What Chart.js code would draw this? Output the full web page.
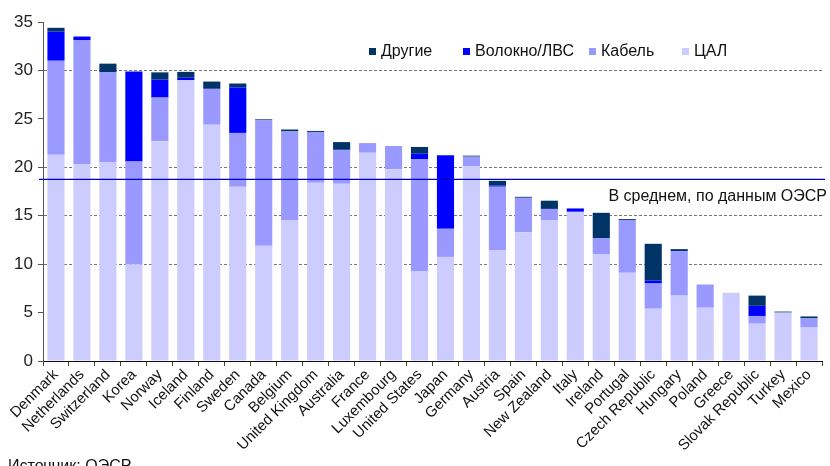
<!DOCTYPE html>
<html>
<head>
<meta charset="utf-8">
<script src="https://cdn.jsdelivr.net/npm/chart.js@4.4.1/dist/chart.umd.min.js"></script>
<style>
  html, body { margin: 0; padding: 0; background: #fff; }
  #wrap { width: 830px; height: 466px; }
</style>
</head>
<body>
<div id="wrap"><canvas id="chart" width="830" height="466"></canvas></div>
<script>
const countries = ['Denmark', 'Netherlands', 'Switzerland', 'Korea', 'Norway', 'Iceland', 'Finland', 'Sweden',
    'Canada', 'Belgium', 'United Kingdom', 'Australia', 'France', 'Luxembourg', 'United States', 'Japan',
    'Germany', 'Austria', 'Spain', 'New Zealand', 'Italy', 'Ireland', 'Portugal', 'Czech Republic',
    'Hungary', 'Poland', 'Greece', 'Slovak Republic', 'Turkey', 'Mexico'];

const dsl = [21.3, 20.3, 20.5, 10.0, 22.7, 29.0, 24.4, 18.0, 11.9, 14.5, 18.4, 18.3, 21.5, 19.8, 9.3, 10.75,
    20.1, 11.4, 13.3, 14.55, 15.4, 11.05, 9.1, 5.4, 6.75, 5.5, 7.05, 3.85, 5.0, 3.45];
const cable = [9.7, 12.8, 9.3, 10.6, 4.5, 0, 3.7, 5.55, 12.95, 9.2, 5.25, 3.5, 1.0, 2.4, 11.55, 2.9,
    1.0, 6.6, 3.55, 1.15, 0, 1.65, 5.45, 2.6, 4.6, 2.4, 0, 0.8, 0, 0.95];
const fibre = [3.0, 0.4, 0, 9.3, 1.85, 0.25, 0, 4.7, 0, 0, 0, 0, 0, 0, 0.55, 7.6,
    0, 0.1, 0, 0, 0.35, 0, 0, 0.3, 0, 0, 0, 1.05, 0, 0];
const other = [0.4, 0, 0.9, 0, 0.75, 0.6, 0.75, 0.4, 0.1, 0.2, 0.1, 0.8, 0, 0, 0.7, 0,
    0.1, 0.5, 0.1, 0.85, 0, 2.6, 0.1, 3.8, 0.2, 0, 0, 1.05, 0.1, 0.2];

const oecdAverage = 18.75;
const yTicksWithGrid = [10, 15, 20, 30];

const colors = { other: '#003366', fibre: '#0000ff', cable: '#9999ff', dsl: '#ccccff' };
const FONT = '"Liberation Sans", Arial, sans-serif';

// legend, average line and source note
const extras = {
    id: 'extras',
    afterDatasetsDraw(chart) {
        const { ctx, chartArea } = chart;
        const y = chart.scales.y.getPixelForValue(oecdAverage);
        ctx.save();
        ctx.strokeStyle = '#0000cc';
        ctx.lineWidth = 1.2;
        ctx.beginPath();
        ctx.moveTo(chartArea.left - 4, y);
        ctx.lineTo(chartArea.right + 3, y);
        ctx.stroke();

        ctx.fillStyle = '#111';
        ctx.font = '16px ' + FONT;
        ctx.textAlign = 'right';
        ctx.textBaseline = 'middle';
        ctx.fillText('В среднем, по данным ОЭСР', 827, y + 17);

        const items = [
            { label: 'Другие', color: colors.other, x: 369 },
            { label: 'Волокно/ЛВС', color: colors.fibre, x: 463 },
            { label: 'Кабель', color: colors.cable, x: 589 },
            { label: 'ЦАЛ', color: colors.dsl, x: 682 }
        ];
        ctx.textAlign = 'left';
        items.forEach(it => {
            ctx.fillStyle = it.color;
            ctx.fillRect(it.x, 48, 7, 7);
            ctx.fillStyle = '#111';
            ctx.fillText(it.label, it.x + 12, 52);
        });

        ctx.textBaseline = 'top';
        ctx.fillText('Источник: ОЭСР', 8, 459);
        ctx.restore();
    }
};

new Chart(document.getElementById('chart'), {
    type: 'bar',
    data: {
        labels: countries,
        datasets: [
            { label: 'ЦАЛ', data: dsl, backgroundColor: colors.dsl },
            { label: 'Кабель', data: cable, backgroundColor: colors.cable },
            { label: 'Волокно/ЛВС', data: fibre, backgroundColor: colors.fibre },
            { label: 'Другие', data: other, backgroundColor: colors.other }
        ]
    },
    options: {
        responsive: false,
        animation: false,
        devicePixelRatio: 1,
        layout: { padding: { top: 22, right: 8, left: 0, bottom: 0 } },
        datasets: { bar: { categoryPercentage: 1, barPercentage: 0.66, borderWidth: 0 } },
        plugins: { legend: { display: false }, tooltip: { enabled: false } },
        scales: {
            x: {
                stacked: true,
                afterFit: s => { s.height = 105; },
                grid: { drawOnChartArea: false, drawTicks: true, tickLength: 5, color: '#444' },
                border: { color: '#111', width: 1 },
                ticks: {
                    autoSkip: false, minRotation: 45, maxRotation: 45, padding: 0,
                    color: '#111', font: { family: FONT, size: 15 }
                }
            },
            y: {
                stacked: true,
                min: 0, max: 35,
                afterFit: s => { s.width = 43; },
                grid: {
                    color: c => (yTicksWithGrid.includes(c.tick.value) ? '#777' : 'rgba(0,0,0,0)'),
                    tickColor: '#555',
                    tickLength: 5,
                    lineWidth: 1
                },
                border: { color: '#555', width: 1, dash: [3, 2] },
                ticks: { stepSize: 5, padding: 5, color: '#222', font: { family: FONT, size: 17 } }
            }
        }
    },
    plugins: [extras]
});
</script>
</body>
</html>
